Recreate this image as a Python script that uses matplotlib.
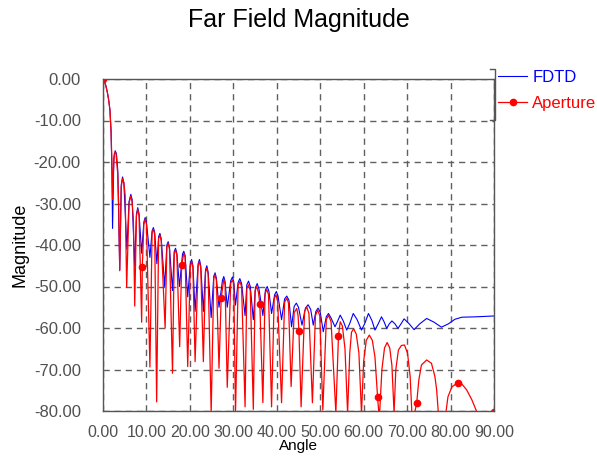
import matplotlib
matplotlib.use('Agg')
import matplotlib.pyplot as plt
from matplotlib.lines import Line2D

# Aperture (red) curve: angle [deg], magnitude [dB]
red_angle = [0, 0.3, 0.7, 1.0, 1.3, 1.6, 1.85, 2.05, 2.2,
             2.4, 2.6, 2.8, 3.0, 3.2, 3.4, 3.6, 3.85,
             4.2, 4.5, 4.8, 5.1, 5.45,
             6.0, 6.4, 6.7, 7.0, 7.3,
             7.7, 8.0, 8.3, 8.9,
             9.05, 9.4, 9.7, 10.0, 10.8,
             11.3, 11.6, 11.9, 12.35,
             12.8, 13.1, 13.4, 14.3,
             14.7, 15.0, 15.3, 16.0,
             16.4, 16.7, 17.0, 17.65,
             18.1, 18.6, 18.9, 19.5,
             20.1, 20.4, 20.7, 21.2,
             21.9, 22.2, 22.5, 23.1,
             23.6, 23.9, 24.2, 24.9,
             25.5, 25.8, 26.1, 26.7,
             27.2, 27.8, 28.1, 28.6,
             29.4, 29.8, 30.1, 30.5,
             31.1, 31.5, 31.9, 32.7,
             33.1, 33.5, 33.9, 34.6,
             35.0, 35.4, 35.8, 36.1, 36.8,
             37.3, 37.7, 38.1, 38.8,
             39.4, 39.8, 40.2, 41.1,
             41.8, 42.3, 42.7, 43.3,
             44.0, 44.6, 44.9, 45.1, 45.6,
             46.4, 46.9, 47.4, 48.2,
             48.9, 49.4, 49.9, 50.6,
             51.4, 51.9, 52.5, 53.6,
             54.2, 54.6, 55.1, 55.7, 56.3,
             56.8, 57.2, 57.7, 58.3, 58.9, 59.5,
             60.0, 60.6, 61.3, 62.0, 62.6, 63.2, 63.6,
             64.2, 64.8, 65.4, 66.0, 66.5, 67.0,
             67.4, 68.0, 68.7, 69.4, 70.1, 70.7, 71.1, 71.4,
             71.7, 72.2, 72.7, 73.3, 74.5, 75.6, 76.4, 76.8, 77.2, 78.0,
             78.9, 79.4, 80.3, 81.6, 82.6, 83.7, 84.9, 86.2, 88.0, 90.0]
red_value = [0, -0.4, -1.8, -3.2, -5.0, -7.5, -12.5, -20.0, -29.0,
             -22.0, -18.0, -17.6, -18.0, -20.5, -23.0, -30.0, -46.2,
             -26.0, -24.0, -25.0, -28.0, -50.2,
             -30.0, -28.2, -29.5, -34.0, -54.7,
             -33.0, -31.4, -33.0, -58.6,
             -45.3, -35.0, -33.8, -35.0, -69.4,
             -37.0, -36.2, -37.5, -77.8,
             -38.5, -37.6, -39.0, -60.0,
             -40.5, -39.6, -41.0, -70.9,
             -42.0, -41.2, -42.5, -64.5,
             -44.8, -42.0, -43.0, -69.3,
             -45.0, -44.0, -45.5, -68.1,
             -45.0, -44.0, -45.5, -68.1,
             -46.5, -45.6, -47.0, -80.5,
             -48.0, -47.2, -48.5, -69.7,
             -52.8, -48.3, -49.5, -74.3,
             -49.2, -48.4, -49.5, -80.5,
             -49.8, -48.8, -50.0, -79.0,
             -50.5, -49.6, -51.0, -79.6,
             -51.0, -50.0, -51.5, -54.2, -78.0,
             -51.7, -50.7, -52.0, -79.0,
             -53.0, -52.0, -53.5, -78.0,
             -53.8, -52.8, -54.0, -74.1,
             -56.3, -55.3, -57.0, -60.7, -79.0,
             -56.0, -54.9, -56.5, -78.0,
             -57.0, -55.7, -57.0, -79.8,
             -58.0, -56.9, -58.5, -80.5,
             -61.9, -58.5, -59.5, -65.0, -80.5,
             -66.0, -61.0, -60.2, -61.5, -66.0, -80.5,
             -68.0, -63.0, -61.7, -63.0, -67.0, -76.6, -82.0,
             -70.0, -64.8, -63.5, -64.8, -69.0, -80.5,
             -70.0, -65.3, -64.2, -64.1, -66.1, -71.7, -80.6, -90.0,
             -80.6, -78.1, -72.5, -68.9, -67.7, -68.5, -71.7, -74.9, -80.6, -90.0,
             -80.6, -76.6, -74.2, -73.2, -73.5, -74.9, -77.3, -80.6, -88.0, -80.2]

# angles where the Aperture curve carries a marker
marker_angle = [0, 9.05, 18.1, 27.2, 36.1, 45.1, 54.2, 63.2, 72.2, 81.6, 90.0]

# FDTD (blue) curve
blue_angle = [0, 0.3, 0.7, 1.0, 1.3, 1.6, 1.85, 2.05, 2.2,
              2.5, 2.8, 3.1, 3.4, 3.85,
              4.2, 4.5, 4.8, 5.5,
              6.0, 6.4, 6.7, 7.3,
              7.7, 8.0, 8.3, 8.9,
              9.4, 9.7, 10.0, 10.8,
              11.3, 11.6, 11.9, 12.4,
              12.8, 13.1, 13.4, 14.2,
              14.7, 15.0, 15.3, 16.0,
              16.4, 16.7, 17.0, 17.6,
              18.3, 18.6, 18.9, 19.5,
              20.1, 20.4, 20.7, 21.2,
              21.9, 22.2, 22.5, 23.1,
              23.6, 23.9, 24.2, 24.9,
              25.5, 25.8, 26.1, 26.7,
              27.5, 27.8, 28.1, 28.6,
              29.4, 29.8, 30.1, 30.5,
              31.1, 31.5, 31.9, 32.7,
              33.1, 33.5, 33.9, 34.6,
              35.1, 35.5, 35.9, 36.8,
              37.4, 37.8, 38.2, 38.8,
              39.5, 39.9, 40.3, 41.1,
              41.8, 42.3, 42.8, 43.4,
              44.0, 44.5, 45.0, 45.8,
              46.6, 47.2, 47.8, 48.4,
              49.0, 49.5, 50.0, 50.7,
              51.4, 51.9, 52.5, 53.4,
              53.9, 54.6, 55.3, 56.1, 56.8, 57.6, 58.5, 59.5,
              60.3, 61.1, 61.9, 62.6, 63.4, 64.1, 64.7, 65.3,
              65.9, 66.5, 67.2, 67.9, 68.6, 69.3, 70.4, 71.6,
              72.9, 74.5, 76.2, 77.9, 79.5, 81.0, 82.6, 86.0, 90.0]
blue_value = [0, -0.4, -1.8, -3.2, -5.0, -7.5, -12.5, -22.0, -36.0,
              -19.0, -17.3, -18.0, -22.0, -46.0,
              -25.5, -23.6, -25.0, -41.0,
              -29.5, -27.8, -29.0, -45.0,
              -32.5, -31.0, -32.5, -42.0,
              -34.5, -33.4, -34.5, -43.0,
              -36.6, -35.8, -37.0, -44.5,
              -38.0, -37.2, -38.5, -50.0,
              -40.0, -39.2, -40.5, -51.0,
              -41.5, -40.8, -42.0, -50.0,
              -42.2, -41.5, -42.5, -52.5,
              -44.5, -43.5, -45.0, -56.0,
              -44.5, -43.5, -45.0, -56.0,
              -46.0, -45.0, -46.5, -57.5,
              -47.5, -46.7, -48.0, -55.0,
              -48.5, -47.6, -48.8, -55.0,
              -48.6, -47.7, -48.9, -54.5,
              -49.0, -48.1, -49.3, -57.0,
              -49.6, -48.7, -50.0, -58.0,
              -50.2, -49.3, -50.6, -57.0,
              -50.8, -50.0, -51.2, -56.5,
              -52.0, -51.2, -52.4, -58.0,
              -53.0, -52.3, -53.3, -59.7,
              -54.8, -54.0, -55.0, -59.3,
              -55.2, -54.4, -55.5, -59.3,
              -56.0, -55.2, -56.2, -60.9,
              -57.3, -56.5, -57.6, -59.7,
              -58.6, -56.9, -58.3, -60.5, -58.9, -56.5, -58.0, -60.5,
              -58.8, -56.5, -58.2, -60.5, -58.9, -57.3, -58.5, -60.1,
              -59.0, -58.3, -59.0, -60.1, -59.0, -57.8, -58.9, -60.4,
              -59.0, -57.7, -58.6, -59.8, -59.0, -57.9, -57.4, -57.3, -57.1]

x_ticks = [0, 10, 20, 30, 40, 50, 60, 70, 80, 90]
y_ticks = [0, -10, -20, -30, -40, -50, -60, -70, -80]

plt.rcParams['font.family'] = ['Liberation Sans', 'DejaVu Sans']

fig = plt.figure(figsize=(5.97, 4.57), dpi=100)
ax = fig.add_axes([103 / 597, 1 - 411 / 457, 391 / 597, 332 / 457])

ax.plot(blue_angle, blue_value, color='#0000ff', lw=0.8)
ax.plot(red_angle, red_value, color='#ff0000', lw=0.9)
idx = [red_angle.index(a) for a in marker_angle]
ax.plot([red_angle[i] for i in idx], [red_value[i] for i in idx],
        'o', color='#ff0000', ms=4.5)

ax.set_xlim(0, 90)
ax.set_ylim(-80, 0)
ax.set_xticks(x_ticks)
ax.set_yticks(y_ticks)
ax.set_xticklabels(['%.2f' % v for v in x_ticks])
ax.set_yticklabels(['%.2f' % v for v in y_ticks])
ax.tick_params(length=0, labelsize=12, colors='#505050')
ax.tick_params(axis='x', pad=10, labelsize=11.5)
ax.tick_params(axis='y', pad=16)
ax.grid(True, color='#606060', ls=(0, (4.5, 3.5)), lw=1.0)
for s in ax.spines.values():
    s.set_color('#555555')
    s.set_linewidth(1.0)

ax.set_xlabel('Angle', fontsize=11)
ax.xaxis.set_label_coords(0.5, -0.0845)
ax.set_ylabel('Magnitude', fontsize=13, labelpad=4)
fig.suptitle('Far Field Magnitude', fontsize=18, y=0.983)

# little bracket left of the legend
fig.add_artist(Line2D([490 / 597, 495 / 597, 495 / 597, 490 / 597],
                      [1 - 69 / 457, 1 - 69 / 457, 1 - 120 / 457, 1 - 120 / 457],
                      color='#555555', lw=1.0))

handles = [Line2D([], [], color='#0000ff', lw=0.8),
           Line2D([], [], color='#ff0000', lw=0.9, marker='o', ms=4.5)]
leg = fig.legend(handles, ['FDTD', 'Aperture'], loc='upper left',
                 bbox_to_anchor=(498 / 597, 1 - 70 / 457), fontsize=12,
                 labelcolor=['#0000ff', '#ff0000'], handlelength=1.75,
                 handletextpad=0.3, borderpad=0, labelspacing=0.65,
                 borderaxespad=0, frameon=False)

fig.savefig('out.png', dpi=100)
